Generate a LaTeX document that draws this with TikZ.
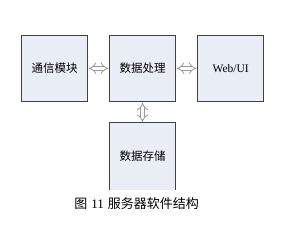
\documentclass[tikz,border=0pt]{standalone}
\usepackage{fontspec}
\setmainfont{Liberation Serif}
\newfontfamily\cjk{Noto Sans CJK SC}
\usetikzlibrary{arrows.meta}
\definecolor{boxfill}{HTML}{E9EDF6}
\definecolor{boxline}{HTML}{404040}
\definecolor{arrline}{HTML}{9A9A9A}
\tikzset{
  blk/.style={fill=boxfill, draw=boxline, line width=0.9pt, minimum width=66.4pt, minimum height=66.7pt, inner sep=0pt, font=\fontsize{11.5}{13}\selectfont},
  blkopen/.style={fill=boxfill, draw=none, minimum width=66.4pt, minimum height=66.7pt, inner sep=0pt, font=\fontsize{11.5}{13}\selectfont},
  link/.style={draw=arrline, double=white, double distance=3.2pt, line width=0.8pt, {Implies[length=5pt]}-{Implies[length=5pt]}, shorten <=0.5pt, shorten >=0.5pt},
  captiontext/.style={font=\fontsize{13}{15}\selectfont}
}
\begin{document}
\begin{tikzpicture}[x=1pt,y=-1pt]
\useasboundingbox (0,0) rectangle (283,228);
\node[blk] (comm) at (54.5,68.3) {\cjk 通信模块};
\node[blk] (proc) at (142.5,68.3) {\cjk 数据处理};
\node[blk] (web) at (230.7,68.3) {Web/UI};
\node[blkopen] (store) at (142.5,156.2) {\cjk 数据存储};
\draw[boxline, line width=0.9pt] (store.south west) -- (store.north west) -- (store.north east) -- (store.south east);
\draw[link] (comm.east) -- (proc.west);
\draw[link] (proc.east) -- (web.west);
\draw[link] (proc.south) -- (store.north);
\node[captiontext] (caption) at (136.7,204) {{\cjk 图}\hspace{4pt}{\rmfamily 11}\hspace{4pt}{\cjk 服务器软件结构}};
\end{tikzpicture}
\end{document}
